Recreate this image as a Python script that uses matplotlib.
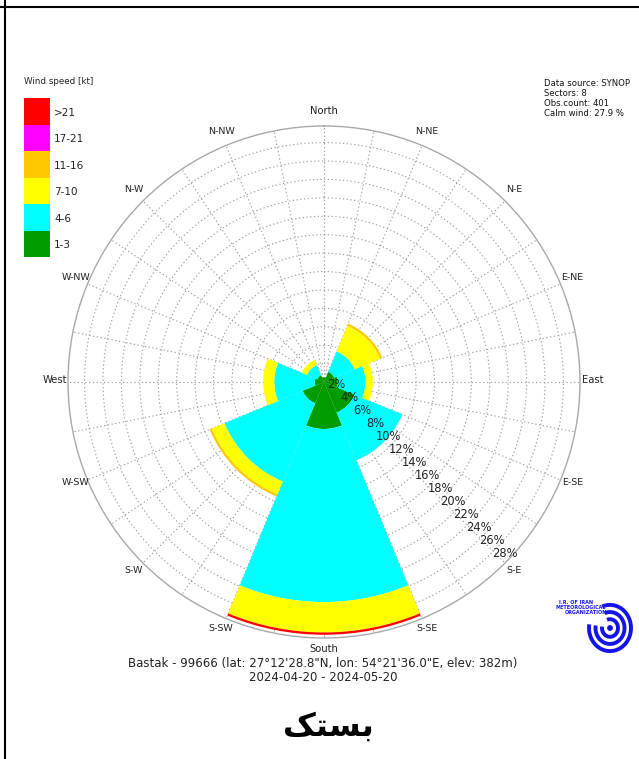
import numpy as np
import matplotlib
matplotlib.use("Agg")
import matplotlib.pyplot as plt
import matplotlib.transforms as mtransforms
from matplotlib.patches import Rectangle, Arc, Circle

# wind rose data (percent of observations), 8 sectors
directions = ["N", "NE", "E", "SE", "S", "SW", "W", "NW"]
bearings = [0, 45, 90, 135, 180, 225, 270, 315]
speed_bins = [">21", "17-21", "11-16", "7-10", "4-6", "1-3"]
bin_colors = ["#ff0000", "#ff00ff", "#ffc800", "#ffff00", "#00ffff", "#009c00"]

freq_1_3 = [0.5, 1.2, 1.5, 3.6, 5.1, 2.5, 1.0, 0.8]
freq_4_6 = [0.0, 2.4, 3.0, 5.6, 18.8, 9.2, 4.4, 1.2]
freq_7_10 = [0.0, 3.0, 0.8, 0.0, 3.3, 1.5, 1.2, 0.6]
freq_11_16 = [0.0, 0.25, 0.0, 0.0, 0.0, 0.25, 0.0, 0.0]
freq_17_21 = [0.0, 0.0, 0.0, 0.0, 0.0, 0.0, 0.0, 0.0]
freq_gt21 = [0.0, 0.0, 0.0, 0.0, 0.25, 0.0, 0.0, 0.0]

compass_labels = ["North", "N-NE", "N-E", "E-NE", "East", "E-SE", "S-E", "S-SE",
                  "South", "S-SW", "S-W", "W-SW", "West", "W-NW", "N-W", "N-NW"]
ring_values = list(range(2, 30, 2))

info_lines = ["Data source: SYNOP", "Sectors: 8", "Obs.count: 401", "Calm wind: 27.9 %"]
station_line = "Bastak - 99666 (lat: 27\u00b012'28.8\"N, lon: 54\u00b021'36.0\"E, elev: 382m)"
period_line = "2024-04-20 - 2024-05-20"
title_fa = "بستک"


def shape_arabic(text):
    # minimal contextual shaping for the letters used, returned in visual order
    forms = {"ب": ("\ufe8f", "\ufe91", "\ufe92", "\ufe90"),
             "س": ("\ufeb1", "\ufeb3", "\ufeb4", "\ufeb2"),
             "ت": ("\ufe95", "\ufe97", "\ufe98", "\ufe96"),
             "ک": ("\ufb8e", "\ufb90", "\ufb91", "\ufb8f")}
    out = []
    n = len(text)
    for i, ch in enumerate(text):
        iso, ini, med, fin = forms[ch]
        prev_join = i > 0
        next_join = i < n - 1
        if prev_join and next_join:
            out.append(med)
        elif prev_join:
            out.append(fin)
        elif next_join:
            out.append(ini)
        else:
            out.append(iso)
    return "".join(reversed(out))


W, H = 639, 759
fig = plt.figure(figsize=(W / 100, H / 100), dpi=100)

cx, cy, R = 324, 382, 256
rmax = 27.8
ax = fig.add_axes([(cx - R) / W, (H - cy - R) / H, 2 * R / W, 2 * R / H], projection="polar")
ax.set_theta_zero_location("N")
ax.set_theta_direction(-1)
ax.set_ylim(0, rmax)
ax.set_axisbelow(True)

theta = np.deg2rad(bearings)
stack = [freq_1_3, freq_4_6, freq_7_10, freq_11_16, freq_17_21, freq_gt21]
stack_colors = bin_colors[::-1]
bottom = np.zeros(len(directions))
for vals, col in zip(stack, stack_colors):
    vals = np.array(vals)
    ax.bar(theta, vals, width=np.pi / 4, bottom=bottom, color=col, linewidth=0, zorder=2)
    bottom += vals

ax.set_xticks(np.deg2rad(np.arange(0, 360, 11.25)))
ax.set_xticklabels([])
ax.set_yticks(ring_values[:-1])
ax.set_yticklabels([])
ax.grid(True, color="#a0a0a0", linestyle=(0, (1.2, 2.2)), linewidth=0.8)
ax.spines["polar"].set_color("#a8a8a8")
ax.spines["polar"].set_linewidth(1.0)

# radial labels along the SE diagonal, nudged upward
lab_tr = mtransforms.offset_copy(ax.transData, fig=fig, x=-1, y=10.4, units="dots")
for v in ring_values:
    ax.text(np.deg2rad(135), v, f"{v}%", transform=lab_tr, ha="center", va="center",
            fontsize=8.3, color="#222222", clip_on=False, zorder=5)

dir_tr = mtransforms.offset_copy(ax.transData, fig=fig, x=0, y=2, units="dots")
for i, lab in enumerate(compass_labels):
    ax.text(np.deg2rad(i * 22.5), 29.2, lab, transform=dir_tr, ha="center", va="center",
            fontsize=6.8 if "-" in lab else 7.2, color="#222222", clip_on=False)

# overlay in pixel coordinates for legend, notes, frame and logo
ov = fig.add_axes([0, 0, 1, 1], facecolor="none")
ov.set_xlim(0, W)
ov.set_ylim(H, 0)
ov.axis("off")

ov.plot([0, W], [6.5, 6.5], color="black", lw=1.5)
ov.plot([4.5, 4.5], [0, H], color="black", lw=1.5)

ov.text(24, 82, "Wind speed [kt]", fontsize=6.3, color="#222222", va="center")
box_h = 26.5
for i, (lab, col) in enumerate(zip(speed_bins, bin_colors)):
    y0 = 98.3 + i * box_h
    ov.add_patch(Rectangle((23.5, y0), 26.5, box_h, facecolor=col, edgecolor="none"))
    ov.text(54, y0 + box_h / 2 + 1, lab, fontsize=7.5, color="#222222", va="center")

for i, line in enumerate(info_lines):
    ov.text(544, 83 + i * 10, line, fontsize=6.1, color="#111111", va="center")

ov.text(323, 664, station_line, fontsize=8.5, color="#222222", ha="center", va="center")
ov.text(323, 677.5, period_line, fontsize=8.5, color="#222222", ha="center", va="center")

ov.text(328, 727, shape_arabic(title_fa), fontsize=23, fontweight="bold",
        family=["DejaVu Sans"], ha="center", va="center", color="black")

# simplified logo
blue = "#1414e6"
lx, ly = 610, 628
for r in [21, 14.5, 8]:
    ov.add_patch(Arc((lx, ly), 2 * r, 2 * r * 1.1, theta1=-110, theta2=190, color=blue, lw=2.8))
ov.add_patch(Circle((lx, ly), 2.2, color=blue))
for (tx, ty), t in zip([(576, 603), (580.5, 607.7), (585.5, 612.3)],
                       ["I.R. OF IRAN", "METEOROLOGICAL", "ORGANIZATION"]):
    ov.text(tx, ty, t, fontsize=3.5, fontweight="bold", color=blue, ha="center", va="center")

fig.savefig("out.png", dpi=100)
